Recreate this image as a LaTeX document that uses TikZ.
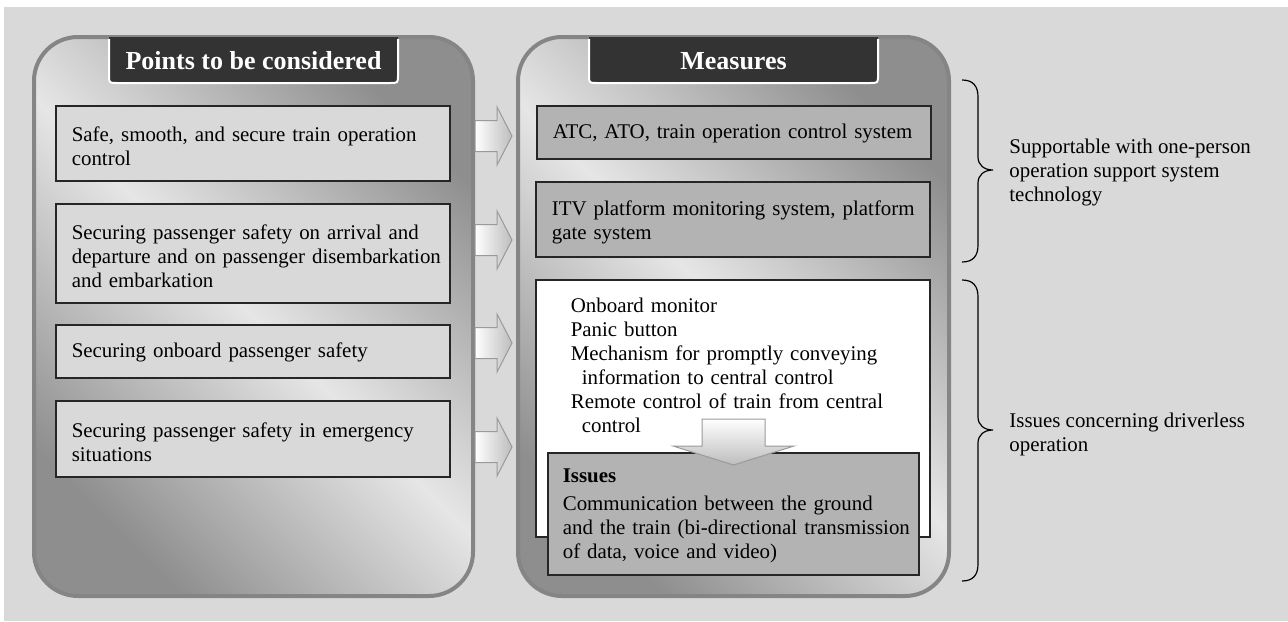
\documentclass[tikz,border=0pt]{standalone}
\usepackage{fontspec}
\setmainfont{Liberation Serif}
\definecolor{bgc}{HTML}{D9D9D9}
\definecolor{paneldark}{HTML}{8E8E8E}
\definecolor{panellight}{HTML}{E6E6E6}
\definecolor{panelborder}{HTML}{858585}
\definecolor{tabc}{HTML}{333333}
\definecolor{boxgray}{HTML}{B3B3B3}
\definecolor{arrowedge}{HTML}{9A9A9A}
\definecolor{arrowend}{HTML}{BDBDBD}
\tikzset{
  txt/.style={font=\fontsize{10.45}{12}\selectfont},
  panel/.style={draw=panelborder, line width=2pt, rounded corners=22pt, inner sep=0pt,
    top color=paneldark, bottom color=paneldark, middle color=panellight, shading angle=-45},
  tabshape/.style={fill=tabc},
  tabline/.style={draw=white, line width=1pt},
  tabtext/.style={text=white, font=\fontsize{13}{15}\selectfont\bfseries, inner sep=0pt},
  lbox/.style={draw=black!85, line width=0.6pt, fill=bgc, minimum width=197pt, inner sep=0pt},
  rbox/.style={draw=black!85, line width=0.6pt, fill=boxgray, minimum width=197pt, inner sep=0pt},
  wbox/.style={draw=black!85, line width=0.6pt, fill=white, minimum width=197pt, inner sep=0pt},
  ltext/.style={txt, anchor=west, align=left, text width=190pt, inner sep=0pt},
  ntext/.style={txt, anchor=north west, align=left, text width=190pt, inner sep=0pt},
  blockarrow/.style={draw=arrowedge, line width=0.5pt, left color=white, right color=arrowend},
  downarrow/.style={draw=arrowedge, line width=0.5pt, top color=white, bottom color=arrowend},
  bracestyle/.style={draw=black, line width=0.6pt},
  bracetext/.style={txt, anchor=west, align=left, inner sep=0pt}
}
\begin{document}
\begin{tikzpicture}[x=0.5pt, y=-0.5pt]
\useasboundingbox (0,0) rectangle (1288,621);
\fill[white] (0,0) rectangle (1288,621);
\fill[bgc] (4,7) rectangle (1288,621);

% panels
\node[panel, minimum width=219.5pt, minimum height=279.5pt] (lp) at (253.5,316.5) {};
\node[panel, minimum width=215.5pt, minimum height=279.5pt] (rp) at (733.5,316.5) {};

% tabs
\fill[tabshape] (109,37) -- (109,75) .. controls (109,83) .. (117,83) -- (390,83) .. controls (398,83) .. (398,75) -- (398,37) -- cycle;
\draw[tabline] (109,39) -- (109,75) .. controls (109,83) .. (117,83) -- (390,83) .. controls (398,83) .. (398,75) -- (398,39);
\node[tabtext] (lt) at (253.5,61) {Points to be considered};
\fill[tabshape] (589,37) -- (589,75) .. controls (589,83) .. (597,83) -- (870,83) .. controls (878,83) .. (878,75) -- (878,37) -- cycle;
\draw[tabline] (589,39) -- (589,75) .. controls (589,83) .. (597,83) -- (870,83) .. controls (878,83) .. (878,75) -- (878,39);
\node[tabtext] (rt) at (733.5,61) {Measures};

% left boxes
\node[lbox, minimum height=37.5pt] (p1) at (253,143.5) {};
\node[ltext] (t1) at ([xshift=8pt,yshift=-1.5pt]p1.west) {Safe, smooth, and secure train operation\\control};
\node[lbox, minimum height=49.5pt] (p2) at (253,253.5) {};
\node[ltext] (t2) at ([xshift=8pt,yshift=-1.5pt]p2.west) {Securing passenger safety on arrival and\\departure and on passenger disembarkation\\and embarkation};
\node[lbox, minimum height=26.5pt] (p3) at (253,351.5) {};
\node[ltext] (t3) at ([xshift=8pt,yshift=-0.5pt]p3.west) {Securing onboard passenger safety};
\node[lbox, minimum height=38pt] (p4) at (253,439) {};
\node[ltext] (t4) at ([xshift=8pt,yshift=-1.5pt]p4.west) {Securing passenger safety in emergency\\situations};

% right boxes
\node[rbox, minimum height=26.5pt] (m1) at (734,132.5) {};
\node[ltext] (u1) at ([xshift=8pt,yshift=-0.5pt]m1.west) {ATC, ATO, train operation control system};
\node[rbox, minimum height=37.5pt] (m2) at (733,219.5) {};
\node[ltext] (u2) at ([xshift=8pt,yshift=-1.5pt]m2.west) {ITV platform monitoring system, platform\\gate system};
\node[wbox, minimum height=128.5pt] (m3) at (733,408.5) {};
\node[ntext] (u3) at ([xshift=17.5pt,yshift=-9pt]m3.north west) {Onboard monitor\\Panic button\\Mechanism for promptly conveying\\\hspace*{5.5pt}information to central control\\Remote control of train from central\\\hspace*{5.5pt}control};
\node[rbox, minimum width=185.5pt, minimum height=61pt] (m4) at (733.5,514) {};
\node[ntext, text width=178pt] (u4) at ([xshift=7.5pt,yshift=-8pt]m4.north west) {\textbf{Issues}\\[2pt]Communication between the ground\\and the train (bi-directional transmission\\of data, voice and video)};

% down arrow
\draw[downarrow] (702,419) -- (765,419) -- (765,446) -- (794,446) -- (733.5,465) -- (673,446) -- (702,446) -- cycle;

% block arrows between panels
\foreach \yy in {136,240,343,447} {
  \draw[blockarrow] (475,\yy-15.5) -- (497,\yy-15.5) -- (497,\yy-29) -- (512,\yy) -- (497,\yy+29) -- (497,\yy+15.5) -- (475,\yy+15.5) -- cycle;
}

% braces
\draw[bracestyle] (962,80) .. controls (973,80) and (978,86) .. (978,97) -- (978,157) .. controls (978,165) and (984,170) .. (993,170) .. controls (984,170) and (978,175) .. (978,183) -- (978,245) .. controls (978,256) and (973,262) .. (962,262);
\coordinate (b1) at (993,170);
\node[bracetext] (s1) at ([xshift=8pt,yshift=-1pt]b1) {Supportable with one-person\\operation support system\\technology};
\draw[bracestyle] (962,280) .. controls (973,280) and (978,286) .. (978,297) -- (978,417) .. controls (978,425) and (984,430) .. (993,430) .. controls (984,430) and (978,435) .. (978,443) -- (978,564) .. controls (978,575) and (973,581) .. (962,581);
\coordinate (b2) at (993,430);
\node[bracetext] (s2) at ([xshift=8pt,yshift=-2pt]b2) {Issues concerning driverless\\operation};
\end{tikzpicture}
\end{document}
